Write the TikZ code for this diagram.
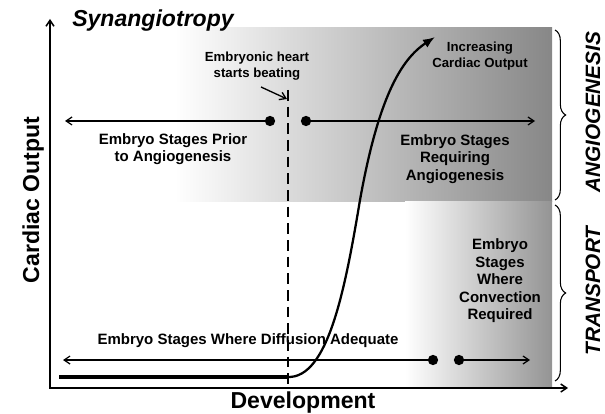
\documentclass[tikz,border=0pt]{standalone}
\usepackage{fontspec}
\setmainfont{Liberation Sans}
\usetikzlibrary{positioning,arrows.meta,decorations.pathreplacing}

\begin{document}
\begin{tikzpicture}[x=0.75pt, y=-0.75pt, line width=0.9pt,
    >={Straight Barb[length=4.5pt,width=6pt]},
    stagetext/.style={font=\bfseries\fontsize{11.25}{13.1}\selectfont, align=center, inner sep=0pt},
    notetext/.style={font=\bfseries\fontsize{9.9}{12}\selectfont, align=center, inner sep=0pt},
    axistext/.style={font=\bfseries\fontsize{17.3}{20}\selectfont, inner sep=0pt},
    sidetext/.style={font=\bfseries\itshape\fontsize{15.6}{18}\selectfont, inner sep=0pt, rotate=90, anchor=base},
    stagedot/.style={draw, circle, fill, inner sep=0pt, minimum size=6.75pt},
    sidebrace/.style={decorate, decoration={brace, amplitude=8pt}, line width=0.8pt}]
    \useasboundingbox (0,0) rectangle (605,413);

    % shaded regions
    \shade[left color=white, middle color=black!12, right color=black!47] (175,28) rectangle (552,201);
    \shade[left color=white, middle color=black!14, right color=black!42] (405,201) rectangle (552,388);

    \coordinate (Origin) at (50,388);
    \coordinate (YEnd) at (50,19);
    \coordinate (XEnd) at (568,388);
    \draw[<->, line width=1.1pt] (YEnd) |- (XEnd);

    \node [axistext, anchor=base] (Synangio) at (153,27) {\itshape Synangiotropy};
    \node [axistext, anchor=base] (XLabel) at (303,408) {Development};
    \node [axistext, anchor=base, rotate=90] (YLabel) at (39,200) {Cardiac Output};

    \node [sidetext] (Angio) at (600,112) {ANGIOGENESIS};
    \node [sidetext] (Transport) at (600,291) {TRANSPORT};
    \draw[sidebrace] (555,30) -- (555,200);
    \draw[sidebrace] (555,205) -- (555,381);

    \node [stagetext] (PriorText) at (173,149) {Embryo Stages Prior\\to Angiogenesis};
    \node [stagetext] (RequireText) at (455,159) {Embryo Stages\\Requiring\\Angiogenesis};
    \node [stagetext] (DiffusionText) at (248,341) {Embryo Stages Where Diffusion Adequate};
    \node [stagetext] (ConvectionText) at (500,281) {Embryo\\Stages\\Where\\Convection\\Required};
    \node [notetext] (HeartText) at (257,66) {Embryonic heart\\starts beating};
    \node [notetext] (IncreasingText) at (480,56) {Increasing\\Cardiac Output};

    \node [stagedot] (DotPrior) at (270,121) {};
    \node [stagedot] (DotRequire) at (306,121) {};
    \node [stagedot] (DotDiffusion) at (433,360) {};
    \node [stagedot] (DotConvection) at (459,360) {};
    \coordinate (PriorEnd) at (65,121);
    \coordinate (RequireEnd) at (535,121);
    \coordinate (DiffusionEnd) at (63,360);
    \coordinate (ConvectionEnd) at (530,360);
    \draw[->] (DotPrior) -- (PriorEnd);
    \draw[->] (DotRequire) -- (RequireEnd);
    \draw[->] (DotDiffusion) -- (DiffusionEnd);
    \draw[->] (DotConvection) -- (ConvectionEnd);

    % heart starts beating
    \coordinate (BeatTop) at (288,90);
    \coordinate (HeartFrom) at (261,87);
    \coordinate (HeartTo) at (287,99);
    \draw[line width=1.9pt, dash pattern=on 8pt off 4.5pt] (BeatTop) -- (BeatTop |- Origin);
    \draw[->, line width=1pt] (HeartFrom) -- (HeartTo);

    % cardiac output curve
    \coordinate (FlatStart) at (59,377);
    \coordinate (Onset) at (288,377);
    \coordinate (CurveTip) at (435,37);
    \draw[line width=2.4pt] (FlatStart) -- (Onset);
    \draw[-{Latex[length=9pt,width=7pt]}, line width=1.7pt] (Onset) .. controls (328,378) and (345,290) .. (360,200) .. controls (378,100) and (400,60) .. (CurveTip);
\end{tikzpicture}
\end{document}
